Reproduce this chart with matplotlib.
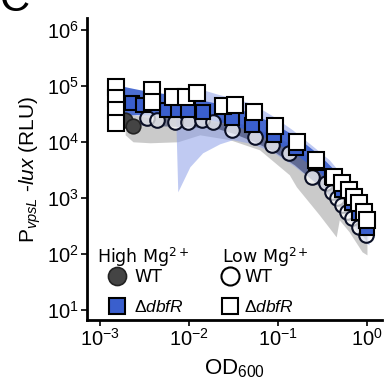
import matplotlib
matplotlib.use('Agg')
import matplotlib.pyplot as plt
from matplotlib.lines import Line2D

plt.rcParams['font.family'] = 'Liberation Sans'
plt.rcParams['mathtext.fontset'] = 'custom'
plt.rcParams['mathtext.rm'] = 'Liberation Sans'
plt.rcParams['mathtext.it'] = 'Liberation Sans:italic'

# High Mg2+ WT (dark circles, grey band)
wt_hi_x = [0.00191, 0.00234]
wt_hi_y = [24700, 19300]
wt_hi_band_x = [0.00191, 0.00234, 0.00363, 0.00746, 0.0132, 0.0286, 0.0619, 0.134, 0.161, 0.291, 0.451, 0.488, 0.631, 0.881, 1.0]
wt_hi_lo = [13300, 10000, 9600, 10000, 13300, 10900, 7200, 2580, 1570, 497, 201, 405, 247, 109, 96]
wt_hi_up = [34300, 30300, 26800, 26800, 24700, 20100, 15100, 8840, 7200, 3430, 1710, 1280, 921, 497, 405]

# High Mg2+ dbfR (blue squares, blue band)
db_hi_x = [0.00151, 0.00228, 0.00303, 0.00562, 0.00746, 0.00966, 0.0142, 0.0301, 0.0516, 0.0912,
           0.161, 0.269, 0.406, 0.526, 0.681, 0.817, 1.0]
db_hi_y = [45800, 49700, 45800, 37300, 37300, 37300, 34300, 26800, 20100, 13300,
           7820, 4220, 2370, 1390, 815, 540, 291]
db_hi_band_x = [0.00151, 0.00217, 0.00363, 0.00692, 0.0132, 0.0286, 0.0516, 0.0912, 0.161, 0.291, 0.488, 0.718, 1.0]
db_hi_lo = [27900, 30300, 30300, 30300, 26800, 20900, 15100, 10000, 5860, 2910, 1130, 497, 247]
db_hi_up = [104000, 92000, 78100, 69000, 56200, 43900, 31600, 20900, 12300, 5860, 2580, 1130, 497]

# Low Mg2+ WT (white circles, navy band)
wt_lo_x = [0.00336, 0.00435, 0.00692, 0.00966, 0.0139, 0.0184, 0.0301, 0.0545, 0.0865, 0.134,
           0.243, 0.348, 0.406, 0.462, 0.526, 0.598, 0.681, 0.817, 0.977]
wt_lo_y = [26800, 24700, 22800, 22800, 24700, 22800, 16400, 12300, 8840, 6360,
           2370, 1850, 1280, 1000, 750, 562, 440, 303, 218]
wt_lo_band_x = [0.00281, 0.00470, 0.0102, 0.0194, 0.0325, 0.0545, 0.0912, 0.153, 0.256, 0.429, 0.631, 1.0]
wt_lo_lo = [20100, 19300, 18500, 17800, 13900, 10000, 6620, 3880, 1930, 921, 440, 164]
wt_lo_up = [34300, 31600, 30300, 29100, 22800, 17800, 12800, 8490, 4390, 2100, 1000, 330]

# Low Mg2+ dbfR (white squares, light blue band)
db_lo_x = [0.00151, 0.00151, 0.00151, 0.00151, 0.00382, 0.00382, 0.00656, 0.00918, 0.0122, 0.0238,
           0.0325, 0.0531, 0.0935, 0.165, 0.269, 0.429, 0.526, 0.631, 0.718, 0.817, 0.929, 1.0]
db_lo_y = [96000, 61100, 37300, 21800, 84900, 51800, 63600, 63600, 75000, 43900,
           45800, 34300, 19300, 10000, 4770, 2370, 1850, 1390, 1040, 815, 562, 405]
db_lo_band_x = [0.00710, 0.00746, 0.0102, 0.0142, 0.0221, 0.0308, 0.0516, 0.0865, 0.145, 0.243, 0.377, 0.583, 0.881, 1.055]
db_lo_lo = [22800, 1280, 3580, 6360, 9200, 10900, 9200, 6620, 3880, 2100, 1130, 540, 178, 145]
db_lo_up = [69000, 69000, 78100, 84900, 69000, 61100, 47700, 29100, 16400, 8490, 4770, 2100, 750, 497]

fig = plt.figure(figsize=(3.84, 3.81), dpi=100)
ax = fig.add_axes([0.227, 0.160, 0.768, 0.793])

ax.fill_between(wt_hi_band_x, wt_hi_lo, wt_hi_up, color='#a8a8a8', alpha=0.6, lw=0)
ax.fill_between(db_lo_band_x, db_lo_lo, db_lo_up, color='#8da0e8', alpha=0.55, lw=0)
ax.fill_between(wt_lo_band_x, wt_lo_lo, wt_lo_up, color='#1b2550', alpha=0.5, lw=0)
ax.fill_between(db_hi_band_x, db_hi_lo, db_hi_up, color='#3a5fcd', alpha=0.9, lw=0)

ax.plot(wt_hi_x, wt_hi_y, 'o', ms=10.5, mfc='#444444', mec='#222222', mew=1.2)
ax.plot(wt_lo_x, wt_lo_y, 'o', ms=10.5, mfc=(1, 1, 1, 0.7), mec='#0a0f25', mew=1.5)
ax.plot(db_hi_x, db_hi_y, 's', ms=10.5, mfc='#3a5fcd', mec='black', mew=1.5)
ax.plot(db_lo_x, db_lo_y, 's', ms=11, mfc='white', mec='black', mew=1.5)

ax.set_xscale('log')
ax.set_yscale('log')
ax.set_xlim(10**-3.146, 10**0.17)
ax.set_ylim(10**0.82, 10**6.21)
ax.set_xticks([1e-3, 1e-2, 1e-1, 1])
ax.set_yticks([1e1, 1e2, 1e3, 1e4, 1e5, 1e6])
ax.minorticks_off()
ax.tick_params(labelsize=14.5, width=1.2, length=4, pad=2)
for s in ['top', 'right']:
    ax.spines[s].set_visible(False)
ax.spines['left'].set_linewidth(2)
ax.spines['bottom'].set_linewidth(2)

ax.set_xlabel(r'OD$_{600}$', fontsize=16, labelpad=5)
ax.set_ylabel(r'P$_{\it{vpsL}}$ -$\it{lux}$ (RLU)', fontsize=15, labelpad=3)

# legends: two columns with their own headings
leg_font = {'family': 'DejaVu Sans', 'size': 12.5}
h1 = [Line2D([], [], ls='', marker='o', ms=13, mfc='#444444', mec='#222222', mew=1.2),
      Line2D([], [], ls='', marker='s', ms=12, mfc='#3a5fcd', mec='black', mew=1.5)]
h2 = [Line2D([], [], ls='', marker='o', ms=13, mfc='white', mec='black', mew=1.5),
      Line2D([], [], ls='', marker='s', ms=12, mfc='white', mec='black', mew=1.5)]
labels = ['WT', r'$\Delta$$\it{dbfR}$']
leg1 = ax.legend(h1, labels, loc='upper left', bbox_to_anchor=(0.025, 0.184), frameon=False,
                 prop=leg_font, handlelength=2.2, handletextpad=-0.1, labelspacing=0.68,
                 borderaxespad=0.2, borderpad=0)
ax.add_artist(leg1)
ax.legend(h2, labels, loc='upper left', bbox_to_anchor=(0.444, 0.184), frameon=False,
          prop=leg_font, handlelength=1.0, handletextpad=0.3, labelspacing=0.68,
          borderaxespad=0.2, borderpad=0)
ax.text(0.034, 0.209, r'High Mg$^{\mathdefault{2+}}$', transform=ax.transAxes,
        fontdict=leg_font, ha='left', va='center')
ax.text(0.458, 0.209, r'Low Mg$^{\mathdefault{2+}}$', transform=ax.transAxes,
        fontdict=leg_font, ha='left', va='center')

fig.text(0.0, 1.0, 'C', fontsize=30, ha='left', va='center')

fig.savefig('out.png', dpi=100)
